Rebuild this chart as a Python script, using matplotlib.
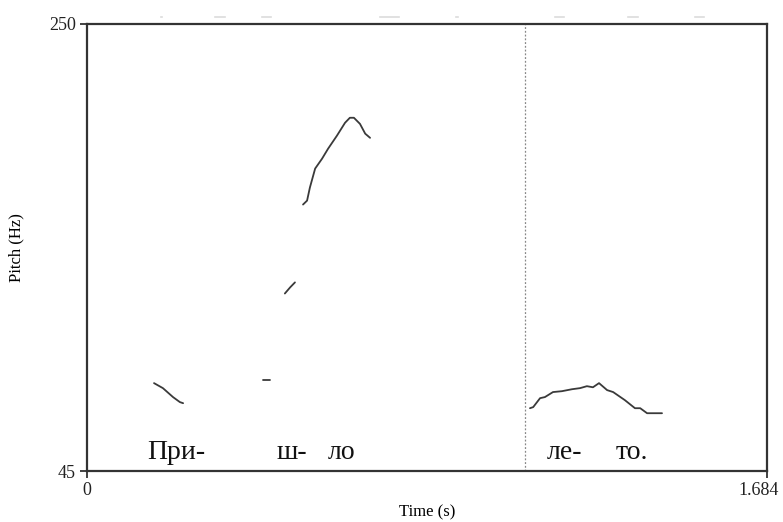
import matplotlib
matplotlib.use("Agg")
import matplotlib.pyplot as plt
from matplotlib.transforms import ScaledTranslation

plt.rcParams['font.family'] = ['Liberation Serif', 'DejaVu Serif']

# time axis / pitch axis limits
t_min, t_max = 0.0, 1.684
f_min, f_max = 45, 250

# pitch contour segments (time s, pitch Hz)
seg1_t = [0.166, 0.188, 0.213, 0.230, 0.238]
seg1_f = [85.3, 83.0, 78.9, 76.6, 76.1]

seg2_t = [0.436, 0.453]
seg2_f = [86.6, 86.6]

seg3_t = [0.490, 0.503, 0.515]
seg3_f = [126.4, 129.2, 131.5]

seg4_t = [0.535, 0.545, 0.552, 0.565, 0.582, 0.597, 0.619, 0.639, 0.651, 0.661, 0.676, 0.689, 0.701]
seg4_f = [167.2, 169.0, 175.0, 183.7, 188.2, 192.8, 198.8, 204.7, 207.0, 207.0, 204.2, 199.7, 197.8]

seg5_t = [1.097, 1.105, 1.122, 1.134, 1.154, 1.176, 1.201, 1.221, 1.238, 1.253, 1.268,
          1.288, 1.303, 1.332, 1.357, 1.370, 1.387, 1.424]
seg5_f = [73.8, 74.3, 78.4, 78.9, 81.2, 81.6, 82.5, 83.0, 83.9, 83.4, 85.3,
          82.1, 81.2, 77.5, 73.8, 73.8, 71.5, 71.5]

segments = [(seg1_t, seg1_f), (seg2_t, seg2_f), (seg3_t, seg3_f),
            (seg4_t, seg4_f), (seg5_t, seg5_f)]

boundary_t = 1.085

# syllable labels
syll_text = ["При-", "ш-", "ло", "ле-", "то."]
syll_t = [0.220, 0.508, 0.630, 1.183, 1.350]
syll_f = 53.5

# faint residual marks above the frame (time start, time end)
faint_t0 = [0.183, 0.317, 0.434, 0.726, 0.915, 1.159, 1.339, 1.505]
faint_t1 = [0.186, 0.342, 0.456, 0.773, 0.918, 1.181, 1.364, 1.528]

fig = plt.figure(figsize=(7.83, 5.22), dpi=100)
ax = fig.add_axes([87/783, 51/522, 680/783, 447/522])

for t, f in segments:
    ax.plot(t, f, color='#3a3a3a', lw=1.3, solid_capstyle='round')

ax.axvline(boundary_t, color='#888888', lw=0.9, ls=(0, (1.5, 1.5)))

for s, t in zip(syll_text, syll_t):
    ax.text(t, syll_f, s, ha='center', va='center', fontsize=20, color='#111111')

for a, b in zip(faint_t0, faint_t1):
    ax.plot([a, b], [253.2, 253.2], color='#dcdcdc', lw=1.2, clip_on=False)

ax.set_xlim(t_min, t_max)
ax.set_ylim(f_min, f_max)
ax.set_xticks([t_min, t_max])
ax.set_xticklabels(["0", "1.684"])
ax.set_yticks([f_min, f_max])
ax.set_yticklabels(["45", "250"])
ax.tick_params(direction='out', length=5, width=1.2, labelsize=13, colors='#222222', pad=3)

lbl = ax.get_xticklabels()[1]
lbl.set_transform(lbl.get_transform() + ScaledTranslation(-8/100, 0, fig.dpi_scale_trans))

for sp in ax.spines.values():
    sp.set_linewidth(1.6)
    sp.set_color('#333333')

ax.set_xlabel("Time (s)", fontsize=12, labelpad=4)
ax.set_ylabel("Pitch (Hz)", fontsize=12, labelpad=18)

fig.savefig("out.png", dpi=100)
